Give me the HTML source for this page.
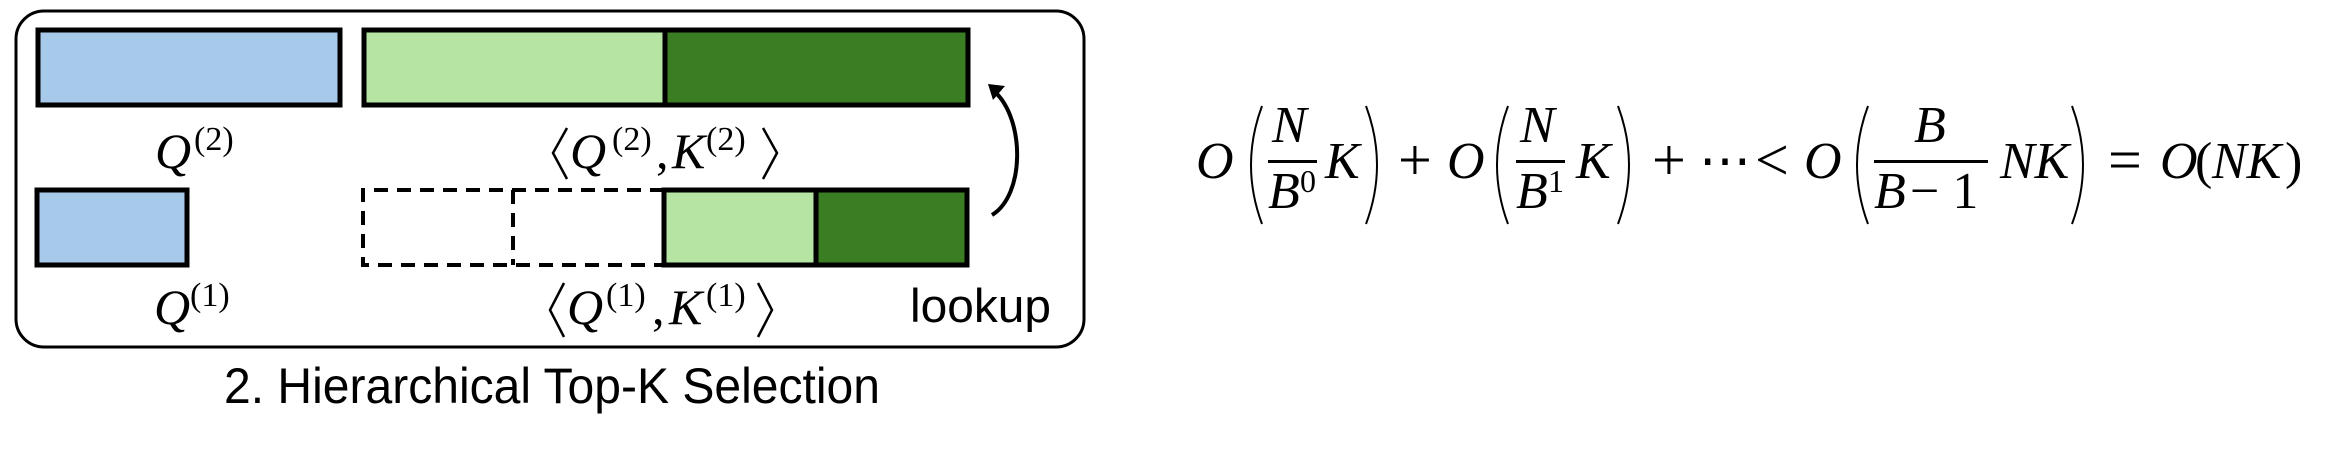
<!DOCTYPE html>
<html><head><meta charset="utf-8"><style>
html,body{margin:0;padding:0;background:#fff;}
svg{display:block;}
.m{font-family:"Liberation Serif",serif;font-style:italic;}
.u{font-family:"Liberation Serif",serif;}
.s{font-family:"Liberation Sans",sans-serif;}
</style></head><body>
<svg width="2333" height="451" viewBox="0 0 2333 451" xmlns="http://www.w3.org/2000/svg">
<rect x="16" y="11" width="1068" height="336" rx="28" ry="28" fill="none" stroke="#000" stroke-width="3"/>
<rect x="38" y="30" width="302" height="75" fill="#a7c9ea" stroke="#000" stroke-width="5"/>
<rect x="364" y="30" width="301" height="75" fill="#b5e4a3" stroke="#000" stroke-width="5"/>
<rect x="665" y="30" width="303" height="75" fill="#3b7d23" stroke="#000" stroke-width="5"/>
<rect x="37" y="190" width="150" height="75" fill="#a7c9ea" stroke="#000" stroke-width="5"/>
<path d="M664,190 L363,190 L363,265 L664,265 M513,190 L513,265" fill="none" stroke="#000" stroke-width="4" stroke-dasharray="14,9"/>
<rect x="664" y="190" width="152" height="75" fill="#b5e4a3" stroke="#000" stroke-width="5"/>
<rect x="816" y="190" width="151" height="75" fill="#3b7d23" stroke="#000" stroke-width="5"/>
<path d="M992,215 C1025,195 1025,120 995,92" fill="none" stroke="#000" stroke-width="4"/>
<polygon points="988,84 1005,86 993,100" fill="#000"/>
<text x="155" y="168" class="m" font-size="50">Q</text>
<text x="194" y="150" class="u" font-size="34">(2)</text>
<text x="154" y="324" class="m" font-size="50">Q</text>
<text x="190" y="306" class="u" font-size="34">(1)</text>
<path d="M567,128 L553,153 L567,179" fill="none" stroke="#000" stroke-width="2.5"/>
<text x="570" y="168" class="m" font-size="50">Q</text>
<text x="612" y="150" class="u" font-size="34">(2)</text>
<text x="656" y="168" class="u" font-size="50">,</text>
<text x="672" y="168" class="m" font-size="50">K</text>
<text x="706" y="150" class="u" font-size="34">(2)</text>
<path d="M763,128 L777,153 L763,179" fill="none" stroke="#000" stroke-width="2.5"/>
<path d="M564,283 L550,310 L564,337" fill="none" stroke="#000" stroke-width="2.5"/>
<text x="567" y="324" class="m" font-size="50">Q</text>
<text x="606" y="306" class="u" font-size="34">(1)</text>
<text x="652" y="324" class="u" font-size="50">,</text>
<text x="669" y="324" class="m" font-size="50">K</text>
<text x="706" y="306" class="u" font-size="34">(1)</text>
<path d="M758,283 L772,310 L758,337" fill="none" stroke="#000" stroke-width="2.5"/>
<text x="910" y="322" class="s" font-size="47" textLength="141" lengthAdjust="spacingAndGlyphs">lookup</text>
<text x="224" y="403" class="s" font-size="50" textLength="656" lengthAdjust="spacingAndGlyphs">2. Hierarchical Top-K Selection</text>
<g class="m" font-size="52">
<text x="1196" y="178">O</text>
<path d="M1262,106 Q1240,165 1262,224" fill="none" stroke="#000" stroke-width="2"/>
<text x="1272" y="142">N</text>
<rect x="1268" y="160" width="49" height="3" fill="#000"/>
<text x="1268" y="208">B</text>
<text x="1300" y="192" class="u" font-size="32" font-style="normal">0</text>
<text x="1325" y="178">K</text>
<path d="M1366,106 Q1388,165 1366,224" fill="none" stroke="#000" stroke-width="2"/>
<text x="1398" y="180" class="u" font-size="60" font-style="normal">+</text>
<text x="1447" y="178">O</text>
<path d="M1508,106 Q1486,165 1508,224" fill="none" stroke="#000" stroke-width="2"/>
<text x="1520" y="142">N</text>
<rect x="1516" y="160" width="49" height="3" fill="#000"/>
<text x="1516" y="208">B</text>
<text x="1548" y="192" class="u" font-size="32" font-style="normal">1</text>
<text x="1576" y="178">K</text>
<path d="M1618,106 Q1640,165 1618,224" fill="none" stroke="#000" stroke-width="2"/>
<text x="1652" y="180" class="u" font-size="60" font-style="normal">+</text>
<text x="1699" y="178" class="u" font-style="normal">⋯</text>
<text x="1755" y="180" class="u" font-size="60" font-style="normal">&lt;</text>
<text x="1804" y="178">O</text>
<path d="M1868,106 Q1846,165 1868,224" fill="none" stroke="#000" stroke-width="2"/>
<text x="1914" y="142">B</text>
<rect x="1874" y="160" width="114" height="3" fill="#000"/>
<text x="1874" y="208">B</text>
<text x="1910" y="208" class="u" font-style="normal">− 1</text>
<text x="2000" y="178">NK</text>
<path d="M2072,106 Q2094,165 2072,224" fill="none" stroke="#000" stroke-width="2"/>
<text x="2108" y="180" class="u" font-size="60" font-style="normal">=</text>
<text x="2160" y="178">O</text>
<text x="2195" y="178" class="u" font-style="normal">(</text>
<text x="2212" y="178">NK</text>
<text x="2285" y="178" class="u" font-style="normal">)</text>
</g>
</svg>
</body></html>
